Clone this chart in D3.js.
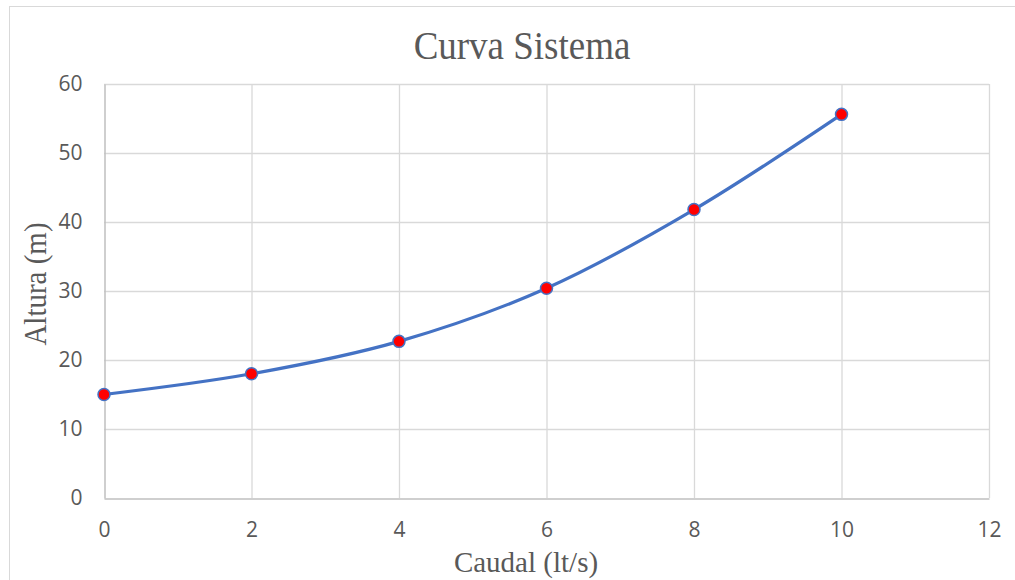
<!DOCTYPE html>
<html>
<head>
<meta charset="utf-8">
<script src="https://cdn.jsdelivr.net/npm/d3@7"></script>
<style>
  body { margin: 0; background: #fff; }
  svg { display: block; }
</style>
</head>
<body>
<svg id="chart" width="1015" height="580"></svg>
<script>
// Curva del sistema: caudal vs altura
const caudal = [0, 2, 4, 6, 8, 10]
const altura = [15, 18, 22.7, 30.4, 41.8, 55.6]
const xTicks = [0, 2, 4, 6, 8, 10, 12]
const yTicks = [0, 10, 20, 30, 40, 50, 60]

const W = 1015, H = 580
const plot = { left: 104, right: 989, top: 84, bottom: 498 }

const svg = d3.select("#chart")

// chart frame
svg.append("rect")
  .attr("x", 9.5).attr("y", 6.5)
  .attr("width", W + 10).attr("height", H + 10)
  .attr("fill", "#fff").attr("stroke", "#d9d9d9")

const x = d3.scaleLinear().domain([0, 12]).range([plot.left, plot.right])
const y = d3.scaleLinear().domain([0, 60]).range([plot.bottom, plot.top])

// gridlines
svg.append("g").selectAll("line").data(yTicks.filter(d => d > 0))
  .join("line")
  .attr("x1", plot.left).attr("x2", plot.right)
  .attr("y1", d => y(d) + 0.5).attr("y2", d => y(d) + 0.5)
  .attr("stroke", "#d9d9d9").attr("stroke-width", 1.3)

svg.append("g").selectAll("line").data(xTicks.filter(d => d > 0))
  .join("line")
  .attr("x1", d => x(d) + 0.5).attr("x2", d => x(d) + 0.5)
  .attr("y1", plot.top).attr("y2", plot.bottom)
  .attr("stroke", "#d9d9d9").attr("stroke-width", 1.3)

// axes
const xAxis = svg.append("g")
  .attr("transform", `translate(0,${plot.bottom + 0.5})`)
  .call(d3.axisBottom(x).tickValues(xTicks).tickSize(0).tickPadding(24))
const yAxis = svg.append("g")
  .attr("transform", `translate(${plot.left + 0.5},0)`)
  .call(d3.axisLeft(y).tickValues(yTicks).tickSize(0).tickPadding(22))

for (const ax of [xAxis, yAxis]) {
  ax.select(".domain").attr("stroke", "#bfbfbf").attr("stroke-width", 1.5)
  ax.selectAll("text")
    .attr("fill", "#595959")
    .style("font-family", "'Open Sans', 'Noto Sans', sans-serif")
    .style("font-size", "21px")
}

// line (smoothed, like Excel)
const line = d3.line()
  .x((d, i) => x(caudal[i]))
  .y(d => y(d))
  .curve(d3.curveCardinal.tension(0))

svg.append("path")
  .datum(altura)
  .attr("d", line)
  .attr("fill", "none")
  .attr("stroke", "#4472c4")
  .attr("stroke-width", 3.2)
  .attr("stroke-linecap", "round")

svg.append("g").selectAll("circle").data(altura)
  .join("circle")
  .attr("cx", (d, i) => x(caudal[i]))
  .attr("cy", d => y(d))
  .attr("r", 6)
  .attr("fill", "#ff0000")
  .attr("stroke", "#4472c4")
  .attr("stroke-width", 1.5)

// titles
const serif = "'Liberation Serif', 'DejaVu Serif', serif"
svg.append("text")
  .attr("transform", "translate(522,59) scale(1,1.1)")
  .attr("text-anchor", "middle")
  .attr("fill", "#595959")
  .style("font-family", serif).style("font-size", "37px")
  .text("Curva Sistema")

svg.append("text")
  .attr("x", 526).attr("y", 572)
  .attr("text-anchor", "middle")
  .attr("fill", "#595959")
  .style("font-family", serif).style("font-size", "29px")
  .text("Caudal (lt/s)")

svg.append("text")
  .attr("transform", "translate(46,284) rotate(-90) scale(1,1.12)")
  .attr("text-anchor", "middle")
  .attr("fill", "#595959")
  .style("font-family", serif).style("font-size", "29px")
  .text("Altura (m)")
</script>
</body>
</html>
